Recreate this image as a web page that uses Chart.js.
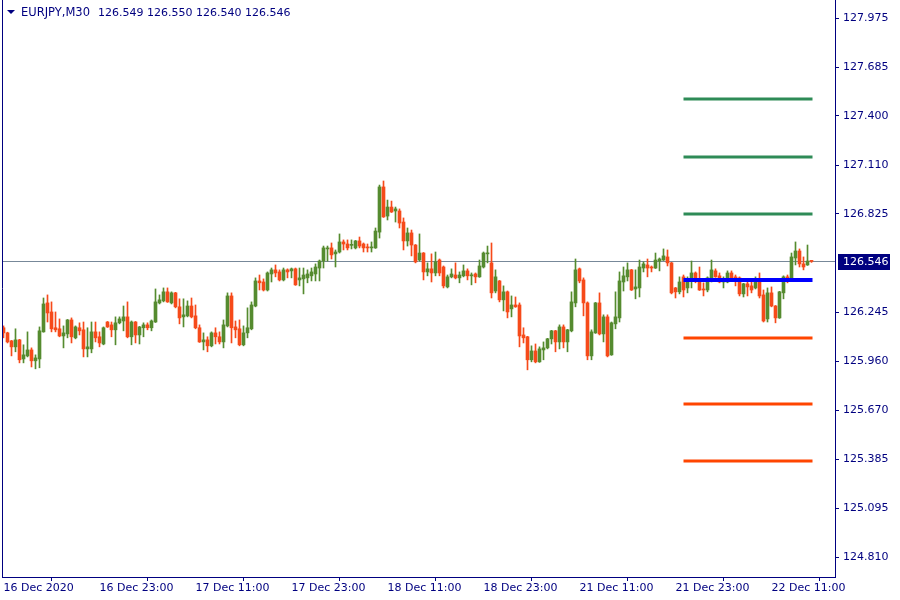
<!DOCTYPE html>
<html>
<head>
<meta charset="utf-8">
<title>EURJPY,M30</title>
<script src="https://cdn.jsdelivr.net/npm/chart.js@4.4.1/dist/chart.umd.min.js"></script>
<style>
    html, body { margin: 0; padding: 0; background: #ffffff; }
    #wrap { width: 900px; height: 600px; }
</style>
</head>
<body>
<div id="wrap"><canvas id="candleChart" width="900" height="600"></canvas></div>
<script>
// EURJPY M30 candles, oldest first
const opens = [
    126.156, 126.126, 126.079, 126.044, 126.085, 125.973, 125.991, 126.026, 125.962, 125.973,
    126.132, 126.302, 126.249, 126.156, 126.150, 126.108, 126.120, 126.202, 126.097, 126.156,
    126.144, 126.032, 126.032, 126.132, 126.103, 126.061, 126.190, 126.173, 126.144, 126.185,
    126.196, 126.220, 126.103, 126.190, 126.114, 126.156, 126.173, 126.156, 126.190, 126.302,
    126.314, 126.367, 126.302, 126.361, 126.279, 126.220, 126.226, 126.284, 126.226, 126.156,
    126.073, 126.085, 126.050, 126.126, 126.103, 126.073, 126.167, 126.343, 126.161, 126.150,
    126.056, 126.126, 126.150, 126.284, 126.431, 126.425, 126.378, 126.472, 126.496, 126.484,
    126.437, 126.496, 126.490, 126.502, 126.437, 126.443, 126.449, 126.461, 126.472, 126.507,
    126.548, 126.619, 126.625, 126.590, 126.601, 126.660, 126.648, 126.640, 126.625, 126.666,
    126.648, 126.630, 126.625, 126.625, 126.718, 126.983, 126.812, 126.865, 126.842, 126.842,
    126.777, 126.666, 126.713, 126.642, 126.554, 126.595, 126.484, 126.502, 126.478, 126.554,
    126.513, 126.396, 126.455, 126.466, 126.449, 126.461, 126.490, 126.461, 126.472, 126.455,
    126.513, 126.590, 126.537, 126.372, 126.431, 126.320, 126.367, 126.267, 126.290, 126.290,
    126.114, 126.103, 125.968, 126.020, 125.956, 126.026, 126.038, 126.091, 126.138, 126.073,
    126.161, 126.073, 126.138, 126.302, 126.502, 126.437, 126.302, 125.991, 126.126, 126.302,
    126.120, 126.220, 125.997, 126.179, 126.214, 126.425, 126.455, 126.496, 126.384, 126.390,
    126.507, 126.525, 126.513, 126.507, 126.548, 126.554, 126.572, 126.537, 126.390, 126.367,
    126.455, 126.390, 126.437, 126.478, 126.437, 126.384, 126.378, 126.437, 126.490, 126.461,
    126.425, 126.425, 126.478, 126.455, 126.449, 126.355, 126.414, 126.402, 126.390, 126.425,
    126.349, 126.208, 126.361, 126.284, 126.214, 126.361, 126.455, 126.437, 126.566, 126.607,
    126.531, 126.525, 126.549
];
const highs = [
    126.167, 126.130, 126.082, 126.150, 126.088, 126.056, 126.132, 126.038, 125.997, 126.161,
    126.331, 126.349, 126.308, 126.249, 126.208, 126.167, 126.205, 126.214, 126.167, 126.185,
    126.190, 126.156, 126.190, 126.190, 126.132, 126.161, 126.193, 126.190, 126.220, 126.220,
    126.284, 126.308, 126.196, 126.193, 126.164, 126.185, 126.185, 126.202, 126.384, 126.349,
    126.390, 126.390, 126.367, 126.364, 126.326, 126.326, 126.314, 126.331, 126.290, 126.173,
    126.126, 126.103, 126.132, 126.156, 126.132, 126.202, 126.361, 126.361, 126.196, 126.202,
    126.167, 126.273, 126.308, 126.449, 126.466, 126.443, 126.484, 126.507, 126.525, 126.496,
    126.507, 126.502, 126.507, 126.507, 126.507, 126.507, 126.496, 126.507, 126.531, 126.554,
    126.636, 126.636, 126.654, 126.613, 126.707, 126.672, 126.672, 126.672, 126.669, 126.689,
    126.654, 126.648, 126.660, 126.742, 126.994, 127.018, 126.906, 126.900, 126.865, 126.854,
    126.801, 126.742, 126.730, 126.645, 126.707, 126.598, 126.537, 126.590, 126.601, 126.560,
    126.519, 126.466, 126.502, 126.537, 126.484, 126.525, 126.502, 126.478, 126.478, 126.554,
    126.601, 126.636, 126.654, 126.496, 126.434, 126.402, 126.372, 126.343, 126.337, 126.302,
    126.156, 126.106, 126.050, 126.061, 126.044, 126.073, 126.094, 126.141, 126.141, 126.173,
    126.173, 126.147, 126.367, 126.560, 126.507, 126.449, 126.308, 126.144, 126.305, 126.361,
    126.232, 126.232, 126.190, 126.367, 126.484, 126.513, 126.537, 126.499, 126.496, 126.554,
    126.543, 126.560, 126.519, 126.595, 126.566, 126.619, 126.613, 126.540, 126.393, 126.455,
    126.466, 126.455, 126.548, 126.484, 126.513, 126.420, 126.455, 126.554, 126.502, 126.478,
    126.455, 126.490, 126.490, 126.466, 126.455, 126.417, 126.431, 126.425, 126.455, 126.478,
    126.378, 126.390, 126.396, 126.287, 126.370, 126.461, 126.466, 126.595, 126.660, 126.619,
    126.572, 126.642, 126.550
];
const lows = [
    126.097, 126.067, 125.991, 126.015, 125.950, 125.950, 125.985, 125.926, 125.915, 125.921,
    126.130, 126.190, 126.132, 126.132, 126.103, 126.038, 126.097, 126.067, 126.091, 126.114,
    125.985, 125.985, 126.009, 126.073, 126.044, 126.056, 126.158, 126.103, 126.056, 126.179,
    126.138, 126.097, 126.056, 126.067, 126.061, 126.103, 126.144, 126.138, 126.187, 126.296,
    126.308, 126.305, 126.296, 126.273, 126.179, 126.161, 126.220, 126.214, 126.150, 126.070,
    126.026, 126.015, 126.044, 126.061, 126.061, 126.038, 126.161, 126.067, 126.097, 126.050,
    126.050, 126.097, 126.144, 126.279, 126.378, 126.372, 126.372, 126.425, 126.455, 126.431,
    126.431, 126.449, 126.449, 126.405, 126.402, 126.355, 126.420, 126.431, 126.431, 126.431,
    126.507, 126.548, 126.560, 126.513, 126.595, 126.613, 126.613, 126.619, 126.619, 126.625,
    126.601, 126.601, 126.601, 126.622, 126.683, 126.804, 126.789, 126.833, 126.777, 126.742,
    126.613, 126.636, 126.578, 126.537, 126.548, 126.437, 126.461, 126.425, 126.461, 126.461,
    126.390, 126.390, 126.449, 126.443, 126.420, 126.455, 126.437, 126.408, 126.420, 126.452,
    126.507, 126.537, 126.331, 126.361, 126.308, 126.255, 126.214, 126.220, 126.276, 126.044,
    126.067, 125.909, 125.956, 125.950, 125.953, 125.968, 126.032, 126.061, 126.015, 126.032,
    126.038, 126.015, 126.132, 126.279, 126.420, 126.226, 125.968, 125.968, 126.123, 126.114,
    126.073, 125.985, 125.994, 126.150, 126.190, 126.372, 126.431, 126.375, 126.326, 126.337,
    126.484, 126.455, 126.484, 126.504, 126.490, 126.551, 126.519, 126.355, 126.331, 126.355,
    126.337, 126.361, 126.390, 126.420, 126.375, 126.343, 126.367, 126.425, 126.452, 126.420,
    126.390, 126.420, 126.431, 126.402, 126.343, 126.337, 126.343, 126.361, 126.384, 126.331,
    126.190, 126.190, 126.279, 126.185, 126.211, 126.326, 126.420, 126.434, 126.525, 126.513,
    126.496, 126.522, 126.540
];
const closes = [
    126.126, 126.073, 126.044, 126.085, 125.968, 125.997, 126.026, 125.962, 125.979, 126.138,
    126.296, 126.243, 126.150, 126.144, 126.108, 126.126, 126.202, 126.103, 126.161, 126.138,
    126.032, 126.044, 126.132, 126.097, 126.067, 126.156, 126.161, 126.144, 126.185, 126.208,
    126.220, 126.103, 126.190, 126.114, 126.161, 126.173, 126.156, 126.196, 126.308, 126.320,
    126.367, 126.308, 126.361, 126.279, 126.214, 126.232, 126.284, 126.220, 126.156, 126.073,
    126.085, 126.050, 126.126, 126.103, 126.073, 126.173, 126.343, 126.156, 126.144, 126.056,
    126.126, 126.156, 126.290, 126.431, 126.420, 126.378, 126.478, 126.496, 126.478, 126.437,
    126.496, 126.484, 126.502, 126.408, 126.449, 126.466, 126.472, 126.484, 126.513, 126.548,
    126.625, 126.625, 126.584, 126.601, 126.660, 126.648, 126.625, 126.642, 126.666, 126.636,
    126.625, 126.625, 126.630, 126.724, 126.983, 126.807, 126.865, 126.836, 126.854, 126.771,
    126.666, 126.713, 126.642, 126.543, 126.595, 126.484, 126.502, 126.478, 126.543, 126.478,
    126.402, 126.455, 126.472, 126.449, 126.466, 126.490, 126.461, 126.466, 126.455, 126.519,
    126.595, 126.592, 126.361, 126.455, 126.320, 126.367, 126.249, 126.290, 126.279, 126.108,
    126.097, 125.968, 126.020, 125.956, 126.032, 126.038, 126.091, 126.138, 126.073, 126.161,
    126.073, 126.144, 126.308, 126.496, 126.431, 126.302, 125.991, 126.132, 126.302, 126.120,
    126.220, 125.991, 126.185, 126.220, 126.431, 126.461, 126.496, 126.378, 126.396, 126.513,
    126.531, 126.507, 126.507, 126.554, 126.560, 126.578, 126.537, 126.361, 126.367, 126.425,
    126.378, 126.443, 126.478, 126.437, 126.378, 126.378, 126.449, 126.496, 126.455, 126.425,
    126.437, 126.478, 126.443, 126.437, 126.355, 126.414, 126.396, 126.378, 126.425, 126.343,
    126.196, 126.361, 126.284, 126.214, 126.367, 126.455, 126.437, 126.572, 126.607, 126.531,
    126.513, 126.548, 126.546
];

// time axis: one label every 24 bars (12 hours)
const xTickIdx = [0, 24, 48, 72, 96, 120, 144, 168, 192];
const xTickLabels = [
    '16 Dec 2020', '16 Dec 23:00', '17 Dec 11:00', '17 Dec 23:00', '18 Dec 11:00',
    '18 Dec 23:00', '21 Dec 11:00', '21 Dec 23:00', '22 Dec 11:00'
];
const yTickValues = [127.975, 127.685, 127.400, 127.110, 126.825, 126.245, 125.960, 125.670, 125.385, 125.095, 124.810];

// horizontal levels drawn on the right side
const levelPrices = [127.499, 127.159, 126.824, 126.437, 126.096, 125.708, 125.374];
const levelColors = ['#2e8b57', '#2e8b57', '#2e8b57', '#0000ff', '#ff4500', '#ff4500', '#ff4500'];
const levelFrom = 170;
const levelTo = 202.25;

const symbol = 'EURJPY';
const period = 'M30';

const NAVY = '#000080';
const BULL = '#558b2f';
const BEAR = '#f64a1a';

document.addEventListener('DOMContentLoaded', () => {
    initCandleChart();
});

function initCandleChart() {
    const ctx = document.getElementById('candleChart').getContext('2d');
    const last = closes.length - 1;

    const candleColors = closes.map((c, i) => c >= opens[i] ? BULL : BEAR);

    const wickData = highs.map((h, i) => ({ x: i, y: [lows[i], h] }));
    const bodyData = opens.map((o, i) => ({ x: i, y: [o, closes[i]] }));

    const levelSets = levelPrices.map((p, k) => ({
        type: 'line',
        data: [{ x: levelFrom, y: p }, { x: levelTo, y: p }],
        borderColor: levelColors[k],
        borderWidth: levelColors[k] === '#0000ff' ? 4 : 3,
        pointRadius: 0,
        borderCapStyle: 'butt',
        order: 0
    }));

    // frame, price line, price tag and header text
    const mtDecor = {
        id: 'mtDecor',
        beforeDatasetsDraw(chart) {
            const c = chart.ctx;
            const area = chart.chartArea;
            const y = Math.round(chart.scales.y.getPixelForValue(closes[last])) + 0.5;
            c.save();
            c.strokeStyle = '#778899';
            c.lineWidth = 1;
            c.beginPath();
            c.moveTo(area.left, y);
            c.lineTo(area.right, y);
            c.stroke();
            c.restore();
        },
        afterDraw(chart) {
            const c = chart.ctx;
            const area = chart.chartArea;
            c.save();
            // left frame line
            c.strokeStyle = NAVY;
            c.lineWidth = 1;
            c.beginPath();
            c.moveTo(area.left + 0.5, area.top);
            c.lineTo(area.left + 0.5, area.bottom);
            c.stroke();

            // current price tag
            const y = Math.round(chart.scales.y.getPixelForValue(closes[last]));
            c.fillStyle = NAVY;
            c.fillRect(area.right + 3, y - 7, 52, 16);
            c.fillStyle = '#ffffff';
            c.font = '11px "DejaVu Sans"';
            c.textBaseline = 'middle';
            c.textAlign = 'left';
            c.fillText(closes[last].toFixed(3), area.right + 8, y + 1);

            // header: triangle, symbol, then OHLC of the last bar
            c.fillStyle = NAVY;
            c.beginPath();
            c.moveTo(7, 10);
            c.lineTo(15, 10);
            c.lineTo(11, 14);
            c.closePath();
            c.fill();
            c.font = '11.5px "DejaVu Sans"';
            c.fillText(`${symbol},${period}`, 21, 13);
            c.font = '11px "DejaVu Sans"';
            const ohlc = [opens[last], highs[last], lows[last], closes[last]].map(v => v.toFixed(3)).join(' ');
            c.fillText(ohlc, 98, 13);
            c.restore();
        }
    };

    new Chart(ctx, {
        type: 'bar',
        data: {
            datasets: [
                ...levelSets,
                {
                    label: 'body',
                    data: bodyData,
                    backgroundColor: candleColors,
                    barThickness: 3,
                    minBarLength: 1,
                    grouped: false,
                    order: 1
                },
                {
                    label: 'wick',
                    data: wickData,
                    backgroundColor: candleColors,
                    barThickness: 1,
                    grouped: false,
                    order: 2
                }
            ]
        },
        options: {
            responsive: false,
            animation: false,
            devicePixelRatio: 1,
            layout: { padding: { left: 2, top: 0, right: 0, bottom: 0 } },
            plugins: {
                legend: { display: false },
                tooltip: { enabled: false }
            },
            scales: {
                x: {
                    type: 'linear',
                    offset: false,
                    min: -0.375,
                    max: 207.875,
                    afterBuildTicks: (axis) => {
                        axis.ticks = xTickIdx.map(v => ({ value: v }));
                    },
                    afterFit: (axis) => {
                        axis.height = 23;
                        axis.paddingLeft = 0;
                        axis.paddingRight = 0;
                    },
                    grid: {
                        drawOnChartArea: false,
                        drawTicks: true,
                        tickLength: 4,
                        color: NAVY
                    },
                    border: { display: true, color: NAVY },
                    ticks: {
                        autoSkip: false,
                        maxRotation: 0,
                        align: 'start',
                        padding: 1,
                        color: NAVY,
                        font: { family: 'DejaVu Sans', size: 11 },
                        callback: (v) => {
                            const k = xTickIdx.indexOf(v);
                            return k >= 0 ? xTickLabels[k] : '';
                        }
                    }
                },
                y: {
                    position: 'right',
                    min: 124.6926,
                    max: 128.0807,
                    afterBuildTicks: (axis) => {
                        axis.ticks = yTickValues.map(v => ({ value: v }));
                    },
                    afterFit: (axis) => {
                        axis.width = 65;
                        axis.paddingTop = 0;
                        axis.paddingBottom = 0;
                    },
                    grid: {
                        drawOnChartArea: false,
                        drawTicks: true,
                        tickLength: 4,
                        color: NAVY
                    },
                    border: { display: true, color: NAVY },
                    ticks: {
                        padding: 4,
                        color: NAVY,
                        font: { family: 'DejaVu Sans', size: 11 },
                        callback: (v) => v.toFixed(3)
                    }
                }
            }
        },
        plugins: [mtDecor]
    });
}
</script>
</body>
</html>
